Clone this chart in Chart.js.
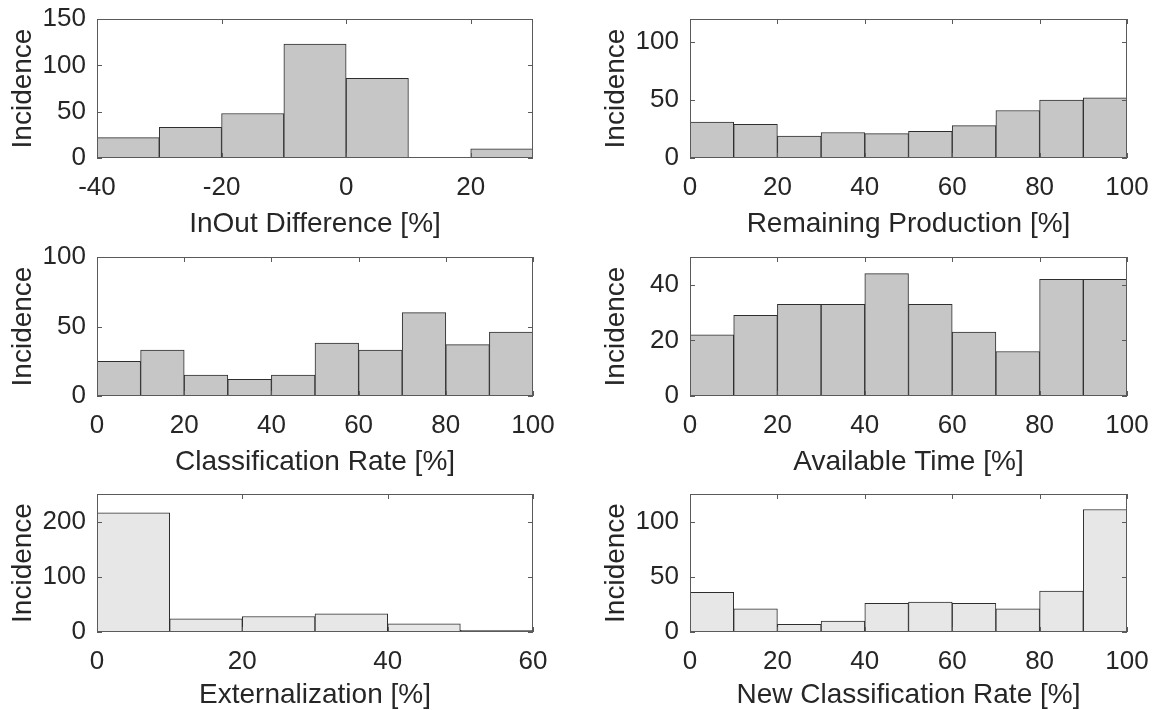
<!DOCTYPE html>
<html>
<head>
<meta charset="utf-8">
<script src="https://cdn.jsdelivr.net/npm/chart.js@4.4.1/dist/chart.umd.min.js"></script>
<style>
  html, body { margin: 0; padding: 0; background: #ffffff; width: 1153px; height: 710px; overflow: hidden; }
  .box { position: absolute; }
</style>
</head>
<body>
<div class="box" style="left:0px;top:3px;"><canvas id="c1" width="559" height="239"></canvas></div>
<div class="box" style="left:593px;top:3px;"><canvas id="c2" width="560" height="239"></canvas></div>
<div class="box" style="left:0px;top:241px;"><canvas id="c3" width="559" height="239"></canvas></div>
<div class="box" style="left:593px;top:241px;"><canvas id="c4" width="560" height="239"></canvas></div>
<div class="box" style="left:0px;top:478px;"><canvas id="c5" width="559" height="235"></canvas></div>
<div class="box" style="left:593px;top:478px;"><canvas id="c6" width="560" height="235"></canvas></div>
<script>
// ---------- data ----------
const binWidth = 10;

const inoutEdges = [-40, -30, -20, -10, 0, 10, 20];
const inoutCounts = [22, 33, 48, 123, 86, 0, 10];

const remainingEdges = [0, 10, 20, 30, 40, 50, 60, 70, 80, 90];
const remainingCounts = [31, 29, 19, 22, 21, 23, 28, 41, 50, 52];

const classEdges = [0, 10, 20, 30, 40, 50, 60, 70, 80, 90];
const classCounts = [25, 33, 15, 12, 15, 38, 33, 60, 37, 46];

const availEdges = [0, 10, 20, 30, 40, 50, 60, 70, 80, 90];
const availCounts = [22, 29, 33, 33, 44, 33, 23, 16, 42, 42];

const extEdges = [0, 10, 20, 30, 40, 50];
const extCounts = [216, 24, 28, 33, 15, 3];

const newClassEdges = [0, 10, 20, 30, 40, 50, 60, 70, 80, 90];
const newClassCounts = [36, 21, 7, 10, 26, 27, 26, 21, 37, 111];

// tick labels
const inoutXTicks = [-40, -20, 0, 20];
const pctXTicks = [0, 20, 40, 60, 80, 100];
const extXTicks = [0, 20, 40, 60];
const inoutYTicks = [0, 50, 100, 150];
const remainingYTicks = [0, 50, 100];
const classYTicks = [0, 50, 100];
const availYTicks = [0, 20, 40];
const extYTicks = [0, 100, 200];
const newClassYTicks = [0, 50, 100];

// ---------- styling ----------
const FONT = '"Liberation Sans", Arial, Helvetica, sans-serif';
const TEXT = '#262626';
const AXIS = '#5a5a5a';
const DARK_FILL = '#c5c6c5';
const LIGHT_FILL = '#e6e7e6';

const boxTicksPlugin = {
  id: 'boxTicks',
  afterDatasetsDraw(chart, args, opts) {
    const { ctx, chartArea: a, scales } = chart;
    const xs = scales.x, ys = scales.y;
    ctx.save();
    ctx.strokeStyle = AXIS;
    ctx.lineWidth = 1;
    const len = 5;
    ctx.beginPath();
    (opts.yTicks || []).forEach(v => {
      const py = Math.round(ys.getPixelForValue(v)) + 0.5;
      ctx.moveTo(a.left, py); ctx.lineTo(a.left + len, py);
      ctx.moveTo(a.right, py); ctx.lineTo(a.right - len, py);
    });
    (opts.xTicks || []).forEach(v => {
      const px = Math.round(xs.getPixelForValue(v)) + 0.5;
      ctx.moveTo(px, a.bottom); ctx.lineTo(px, a.bottom - len);
      ctx.moveTo(px, a.top); ctx.lineTo(px, a.top + len);
    });
    ctx.stroke();
    ctx.strokeRect(Math.round(a.left) + 0.5, Math.round(a.top) + 0.5,
                   Math.round(a.right - a.left) - 1, Math.round(a.bottom - a.top) - 1);
    ctx.restore();
  }
};

function makeHist(id, edges, counts, xLabel, xMin, xMax, xTicks, yMax, yTicks, fill, axisH) {
  const pts = edges.map((e, i) => ({ x: e + binWidth / 2, y: counts[i] }));
  new Chart(document.getElementById(id), {
    type: 'bar',
    data: {
      datasets: [{
        data: pts,
        backgroundColor: fill,
        borderColor: '#2e2e2e',
        borderWidth: 1,
        borderSkipped: false,
        barPercentage: 1.0,
        categoryPercentage: 1.0
      }]
    },
    options: {
      responsive: false,
      animation: false,
      events: [],
      layout: { padding: { top: 16, right: 26, left: 0, bottom: 0 } },
      plugins: {
        legend: { display: false },
        tooltip: { enabled: false },
        boxTicks: { xTicks: xTicks, yTicks: yTicks }
      },
      scales: {
        x: {
          type: 'linear',
          min: xMin,
          max: xMax,
          offset: false,
          grid: { display: false },
          border: { display: false },
          afterBuildTicks: s => { s.ticks = xTicks.map(v => ({ value: v })); },
          ticks: { font: { family: FONT, size: 26 }, color: TEXT, padding: 6, maxRotation: 0, autoSkip: false },
          title: { display: true, text: xLabel, font: { family: FONT, size: 28 }, color: TEXT, padding: { top: 1, bottom: 1 } },
          afterFit: s => { s.height = axisH; s.paddingLeft = 0; s.paddingRight = 0; }
        },
        y: {
          type: 'linear',
          min: 0,
          max: yMax,
          grid: { display: false },
          border: { display: false },
          afterBuildTicks: s => { s.ticks = yTicks.map(v => ({ value: v })); },
          ticks: { font: { family: FONT, size: 26 }, color: TEXT, padding: 3, autoSkip: false },
          title: { display: true, text: 'Incidence', font: { family: FONT, size: 28 }, color: TEXT, padding: { top: 6, bottom: 6 } },
          afterFit: s => { s.width = 97; s.paddingTop = 0; s.paddingBottom = 0; }
        }
      }
    },
    plugins: [boxTicksPlugin]
  });
}

makeHist('c1', inoutEdges, inoutCounts, 'InOut Difference [%]', -40, 30, inoutXTicks, 150, inoutYTicks, DARK_FILL, 84);
makeHist('c2', remainingEdges, remainingCounts, 'Remaining Production [%]', 0, 100, pctXTicks, 120, remainingYTicks, DARK_FILL, 84);
makeHist('c3', classEdges, classCounts, 'Classification Rate [%]', 0, 100, pctXTicks, 100, classYTicks, DARK_FILL, 84);
makeHist('c4', availEdges, availCounts, 'Available Time [%]', 0, 100, pctXTicks, 50, availYTicks, DARK_FILL, 84);
makeHist('c5', extEdges, extCounts, 'Externalization [%]', 0, 60, extXTicks, 250, extYTicks, LIGHT_FILL, 81);
makeHist('c6', newClassEdges, newClassCounts, 'New Classification Rate [%]', 0, 100, pctXTicks, 125, newClassYTicks, LIGHT_FILL, 81);
</script>
</body>
</html>
